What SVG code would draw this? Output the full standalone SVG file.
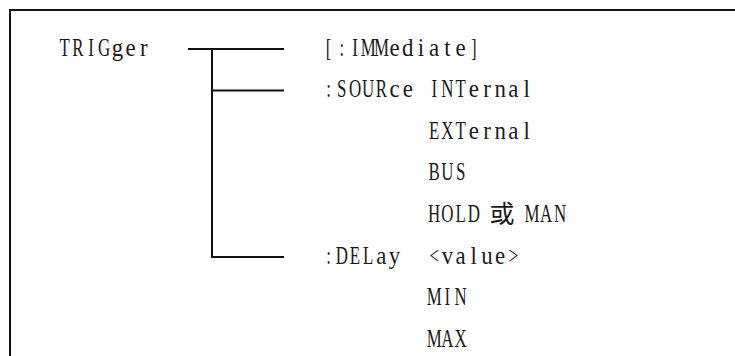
<svg xmlns="http://www.w3.org/2000/svg" width="735" height="356" viewBox="0 0 735 356">
<style>
.t{font-family:"Liberation Serif","DejaVu Serif",serif;font-size:26px;fill:#1a1a1a;text-anchor:middle;}
.c{font-family:"Noto Sans CJK SC",sans-serif;font-size:25px;fill:#1a1a1a;text-anchor:middle;}
.ln{stroke:#111;stroke-width:2;fill:none;}
</style>
<rect width="735" height="356" fill="#fff"/>
<path class="ln" d="M10 356 V10 H735"/>
<g id="connectors">
<path class="ln" d="M188 49 H284"/>
<path class="ln" d="M212 49 V257 H284"/>
<path class="ln" d="M212 90.5 H284"/>
</g>
<g id="trigger">
<text class="t" transform="scale(0.65,1)" x="99.38 119.69 140 160.31" y="56">TRIG</text>
<text class="t" transform="scale(0.88,1)" x="133.41 148.41 163.41" y="56">ger</text>
</g>
<g id="immediate">
<text class="t" transform="scale(0.65,1)" x="505.54 525.85 546.15 566.46 586.77" y="56">[:IMM</text>
<text class="t" transform="scale(0.88,1)" x="448.41 463.41 478.41 493.41 508.41 523.41" y="56">ediate</text>
<text class="t" transform="scale(0.65,1)" x="728.92" y="56">]</text>
</g>
<g id="source">
<text class="t" transform="scale(0.65,1)" x="505.54 525.85 546.15 566.46 586.77" y="97.5">:SOUR</text>
<text class="t" transform="scale(0.88,1)" x="448.41 463.41" y="97.5">ce</text>
</g>
<g id="internal">
<text class="t" transform="scale(0.65,1)" x="668 688.31 708.62" y="97.5">INT</text>
<text class="t" transform="scale(0.88,1)" x="538.41 553.41 568.41 583.41 598.41" y="97.5">ernal</text>
</g>
<g id="external">
<text class="t" transform="scale(0.65,1)" x="668 688.31 708.62" y="139">EXT</text>
<text class="t" transform="scale(0.88,1)" x="538.41 553.41 568.41 583.41 598.41" y="139">ernal</text>
</g>
<g id="bus"><text class="t" transform="scale(0.65,1)" x="668 688.31 708.62" y="180.5">BUS</text></g>
<g id="hold">
<text class="t" transform="scale(0.65,1)" x="668 688.31 708.62 728.92" y="222">HOLD</text>
<text class="c" x="502" y="223">或</text>
<text class="t" transform="scale(0.65,1)" x="818.46 840 861.54" y="222">MAN</text>
</g>
<g id="delay">
<text class="t" transform="scale(0.65,1)" x="505.54 525.85 546.15 566.46" y="264">:DEL</text>
<text class="t" transform="scale(0.88,1)" x="433.41 448.41" y="264">ay</text>
</g>
<g id="value">
<text class="t" transform="scale(0.65,1)" x="668" y="264">&lt;</text>
<text class="t" transform="scale(0.88,1)" x="508.41 523.41 538.41 553.41 568.41" y="264">value</text>
<text class="t" transform="scale(0.65,1)" x="789.85" y="264">&gt;</text>
</g>
<g id="min"><text class="t" transform="scale(0.65,1)" x="668 688.31 708.62" y="305.5">MIN</text></g>
<g id="max"><text class="t" transform="scale(0.65,1)" x="668 688.31 708.62" y="347">MAX</text></g>
</svg>
